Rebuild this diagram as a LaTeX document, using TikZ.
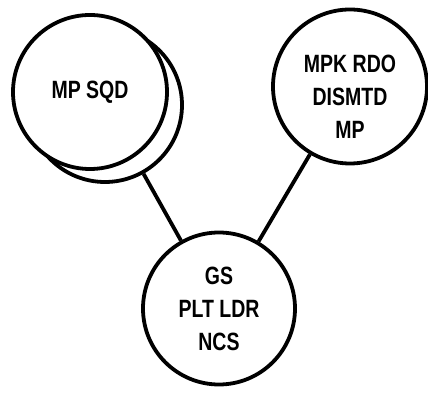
\documentclass[tikz,border=0pt]{standalone}
\usepackage{fontspec}
\newfontfamily\lblfont[FakeStretch=0.78]{Liberation Sans}

\begin{document}
\begin{tikzpicture}[x=0.5pt, y=-0.5pt, line width=1.9pt,
	main/.style = {draw, circle, fill=white, minimum size=77pt, inner sep=0pt},
	txt/.style = {align=center, font=\lblfont\bfseries\fontsize{12.5}{16.5}\selectfont}]
		\useasboundingbox (0,0) rectangle (428,394);
		\node[main] (2b) at (105,105) {};
		\node[main, txt] (2) at (90,92) {MP SQD};
		\node[main] (3) at (350,86.5) {};
		\node[txt] (3t) at ([yshift=-5pt]3.center) {MPK RDO\\DISMTD\\MP};
		\node[main, txt, minimum size=76pt] (1) at (219,308.5) {GS\\PLT LDR\\NCS};
		
		\draw (2b) -- (1);
		\draw (3) -- (1);
	\end{tikzpicture}
\end{document}
